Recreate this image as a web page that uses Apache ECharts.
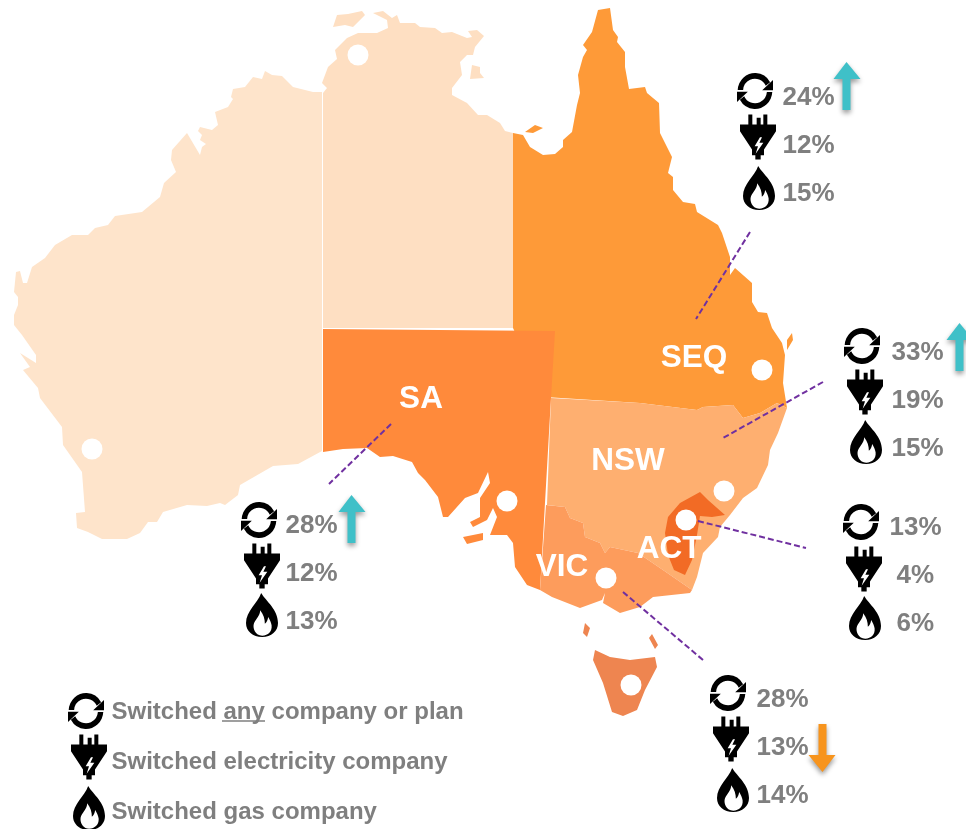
<!DOCTYPE html>
<html><head><meta charset="utf-8">
<style>html,body{margin:0;padding:0;background:#fff}#c{width:966px;height:829px}</style>
<script src="https://cdn.jsdelivr.net/npm/echarts@6/dist/echarts.min.js"></script>
</head><body><div id="c"></div>
<script>
// ---- data ----
const stateLabels = ['SEQ','SA','NSW','ACT','VIC'];
const groupNames  = ['SEQ','NSW','ACT','VIC','SA'];
const switchedAny  = [24,33,13,28,28];
const switchedElec = [12,19,4,13,12];
const switchedGas  = [15,15,6,14,13];
const trend = ['up','up','','down','up'];
const legendLabels = ['Switched any company or plan','Switched electricity company','Switched gas company'];

// ---- map shapes (outline geometry, in picture units) ----
const shapes = {
 WA:[[[322,92],[313,92],[293,87],[282,76],[272,75],[265,71],[262,79],[253,77],[245,87],[233,89],[231,97],[233,99],[228,107],[215,112],[218,125],[212,130],[200,127],[198,131],[202,135],[200,140],[206,144],[202,147],[200,155],[187,133],[172,150],[171,160],[176,172],[164,183],[160,197],[142,212],[115,216],[108,225],[95,228],[88,235],[72,235],[55,245],[45,258],[32,267],[27,283],[23,283],[20,271],[16,272],[14,292],[18,297],[18,305],[14,315],[14,325],[22,335],[36,355],[36,363],[20,353],[30,367],[23,370],[38,388],[40,398],[62,427],[63,445],[82,472],[85,512],[76,513],[77,528],[88,532],[102,539],[127,539],[140,533],[148,522],[157,522],[163,512],[187,505],[207,506],[220,503],[225,505],[238,495],[240,485],[273,466],[298,464],[322,451]]],
 NT:[[[323,93],[327,88],[322,83],[328,67],[337,59],[335,50],[347,38],[358,33],[377,33],[388,28],[387,20],[373,13],[383,11],[392,18],[397,15],[400,23],[415,23],[420,27],[435,28],[442,33],[452,32],[467,38],[472,37],[468,31],[477,30],[484,36],[475,47],[473,55],[467,55],[460,62],[462,75],[452,88],[452,95],[467,103],[478,115],[487,115],[500,123],[505,131],[513,133],[513,328],[323,328]],
     [[333,27],[337,15],[348,14],[362,11],[365,15],[353,27],[345,25]],
     [[472,65],[480,67],[480,73],[484,78],[470,79]]],
 QLD:[[[513,133],[523,135],[530,147],[543,155],[555,154],[563,147],[563,140],[572,132],[577,105],[580,93],[578,75],[583,57],[587,50],[583,45],[592,32],[598,10],[610,8],[613,30],[618,37],[617,42],[625,52],[625,67],[629,89],[645,87],[647,93],[659,103],[660,133],[672,157],[668,173],[673,177],[673,190],[683,202],[695,204],[697,212],[718,225],[722,233],[730,257],[730,275],[735,268],[752,283],[752,302],[758,312],[767,313],[772,328],[782,343],[785,355],[783,383],[787,408],[777,403],[760,413],[743,418],[733,405],[703,407],[697,410],[640,403],[545,397],[513,328]],
     [[525,132],[535,125],[543,128],[533,133]],
     [[792,333],[793,340],[787,350],[787,340]]],
 SA:[[[323,329],[555,331],[551,398],[540,590],[527,585],[515,567],[513,543],[507,535],[490,535],[497,517],[493,508],[487,520],[473,527],[470,522],[480,517],[480,498],[490,483],[488,472],[478,493],[465,498],[448,517],[443,517],[438,497],[425,480],[418,473],[412,462],[393,456],[380,457],[367,448],[343,449],[323,452]],
     [[463,537],[483,533],[483,540],[467,544]]],
 NSW:[[[551,398],[640,403],[697,410],[703,407],[733,405],[743,418],[760,413],[777,403],[787,408],[778,433],[770,450],[768,465],[757,488],[743,498],[730,515],[720,527],[718,537],[703,553],[697,577],[692,590],[663,570],[638,553],[610,547],[605,553],[600,543],[585,537],[583,523],[570,518],[565,507],[547,505]]],
 VIC:[[[546,505],[565,507],[570,518],[583,523],[585,537],[600,543],[605,553],[610,547],[638,553],[663,570],[692,590],[690,593],[653,597],[640,607],[620,613],[603,603],[605,593],[602,600],[580,608],[552,597],[540,590]]],
 ACT:[[[700,492],[708,500],[725,515],[712,517],[700,516],[697,535],[692,560],[685,575],[674,570],[668,555],[665,533],[668,517],[680,503]]],
 TAS:[[[595,650],[610,657],[630,660],[655,657],[657,667],[645,690],[637,710],[623,716],[612,712],[603,683],[593,660]],
      [[585,623],[590,628],[587,637],[583,633]],
      [[652,634],[658,645],[655,649],[649,638]]]
};
const stateColors = {WA:'#FEE4CB',NT:'#FEDFC2',QLD:'#FE9A38',SA:'#FF8A3B',NSW:'#FEAF70',VIC:'#FD9C5C',ACT:'#F26B25',TAS:'#EE8550'};

const geoJson = {type:'FeatureCollection',features:Object.keys(shapes).map(n=>({
  type:'Feature',properties:{name:n},
  geometry:{type:'MultiPolygon',coordinates:shapes[n].map(r=>[r.concat([r[0]])])}
}))};

// ---- placement ----
const cityDots = [[358,55],[92,449],[762,370],[507,501],[724,491],[686,520],[606,578],[631,685]];
const stateLabelPos = [[694,358],[421,399],[628,461],[669,549],[562,567]];
const iconPos = {
  SEQ:[[755,91],[758,137],[759,188]],
  NSW:[[862,346],[865,392],[866,442]],
  ACT:[[861,522],[864,569],[865,618]],
  VIC:[[728,693],[731,739],[733,790]],
  SA :[[259,520],[262,566],[262,615]]
};
const textPos = {
  SEQ:[[782,98],[782,146],[782,194]],
  NSW:[[891,353],[891,401],[891,449]],
  ACT:[[889,528],[896,576],[896,624]],
  VIC:[[756,700],[756,748],[756,796]],
  SA :[[285,526],[285,574],[285,622]]
};
const arrowPos = {SEQ:[847,86],NSW:[960,347],VIC:[822,748],SA:[352,519]};
const leaders = [
  [[750,232],[696,319]],[[823,382],[723,438]],[[698,521],[806,548]],[[623,592],[703,660]],[[391,424],[329,484]]
];
const legendIcons = [[86,711],[89,757],[89,808]];
const legendText  = [[111,712],[111,762],[111,812]];
const anyUnderline = [[222,721],[265,721]];

// ---- icons ----
const iconCycle = 'path://M2 47A48 48 0 0 1 92 26L80 36A33 33 0 0 0 17 47ZM98 53A48 48 0 0 1 8 74L20 64A33 33 0 0 0 83 53ZM100 20L100 48L70 48ZM0 80L0 52L30 52Z';
const iconPlug = 'path://M0 30L108 30L108 50L72 105L72 122L62 122L62 135L46 135L46 122L36 122L36 105L0 50ZM60 68L44 95L54 95L47 118L70 85L58 85L66 68ZM25 0L37 0L37 30L25 30ZM50 10L62 10L62 30L50 30ZM70 0L82 0L82 30L70 30Z';
const iconFlame = 'path://M45 0C60 25 95 50 95 90C95 115 75 132 48 132C20 132 0 115 0 90C0 55 35 30 45 0ZM48 128C66 128 78 115 76 97C75 88 70 80 66 72C64 82 62 88 56 92C56 78 52 65 42 52C42 68 30 78 24 90C18 105 28 128 48 128Z';
const iconArrow = 'path://M13 0L27 17L17 17L17 48L9 48L9 17L0 17Z';
const icons = [iconCycle,iconPlug,iconFlame];
const iconSizes = [[36,36],[36,45],[32,44]];

echarts.registerMap('aus', geoJson);
const chart = echarts.init(document.getElementById('c'), null, {renderer:'canvas'});

const FONT = '"Liberation Sans",Arial,sans-serif';
const GREY = '#7F7F7F';
const HIDDEN = {color:'rgba(0,0,0,0)',opacity:1};
function iconSeries(list, j){
  return {type:'scatter',coordinateSystem:'geo',silent:true,symbol:icons[j],symbolSize:iconSizes[j],
    itemStyle:{color:'#000',opacity:1},data:list,z:5};
}
function textSeries(data, size){
  return {type:'scatter',coordinateSystem:'geo',silent:true,symbolSize:1,itemStyle:HIDDEN,z:6,
    label:{show:true,position:'right',distance:0,formatter:'{b}',color:GREY,opacity:1,fontFamily:FONT,fontWeight:'bold',fontSize:size},
    data};
}
const pctData = [];
groupNames.forEach((g,i)=>{
  [switchedAny,switchedElec,switchedGas].forEach((arr,j)=>{
    pctData.push({name:arr[i]+'%',value:textPos[g][j]});
  });
});
const iconSeriesList = [0,1,2].map(j=>iconSeries(
  groupNames.map(g=>iconPos[g][j]).concat([legendIcons[j]]), j));

const arrowSeries = ['up','down'].map(dir=>({
  type:'scatter',coordinateSystem:'geo',silent:true,symbol:iconArrow,symbolSize:[27,48],
  symbolRotate:dir==='down'?180:0,z:4,
  itemStyle:{color:dir==='up'?'#3FC0C8':'#F7941D',opacity:1,shadowBlur:5,shadowColor:'rgba(0,0,0,0.4)',shadowOffsetY:3},
  data:groupNames.filter((g,i)=>trend[i]===dir).map(g=>arrowPos[g])
}));

chart.setOption({
  animation:false,
  backgroundColor:'#fff',
  tooltip:{show:false},
  geo:{
    map:'aus',left:0,top:0,right:0,bottom:0,roam:false,silent:true,
    projection:{project:p=>p,unproject:p=>p},
    boundingCoords:[[0,0],[966,829]],
    label:{show:false},
    itemStyle:{borderWidth:0,areaColor:'#FEE4CB'},
    regions:Object.keys(stateColors).map(n=>({name:n,itemStyle:{areaColor:stateColors[n],borderWidth:0}}))
  },
  series:[
    {type:'scatter',coordinateSystem:'geo',silent:true,symbol:'circle',symbolSize:21,
     itemStyle:{color:'#fff',opacity:1},data:cityDots,z:2},
    {type:'lines',coordinateSystem:'geo',silent:true,z:3,
     lineStyle:{color:'#7030A0',width:2,type:[6,3],opacity:1,curveness:0},
     data:leaders.map(c=>({coords:c}))},
    {type:'lines',coordinateSystem:'geo',silent:true,z:3,
     lineStyle:{color:GREY,width:1.5,opacity:1,curveness:0},
     data:[{coords:anyUnderline}]},
    {type:'scatter',coordinateSystem:'geo',silent:true,symbolSize:1,itemStyle:HIDDEN,z:6,
     label:{show:true,position:'inside',formatter:'{b}',color:'#fff',opacity:1,fontFamily:FONT,fontWeight:'bold',fontSize:31.5},
     data:stateLabels.map((n,i)=>({name:n,value:stateLabelPos[i]}))},
    textSeries(pctData,26),
    textSeries(legendLabels.map((n,i)=>({name:n,value:legendText[i]})),24),
    ...iconSeriesList,
    ...arrowSeries
  ]
});
</script></body></html>
